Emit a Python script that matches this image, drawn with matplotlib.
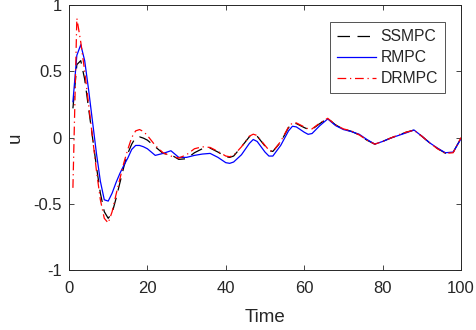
import numpy as np
import matplotlib
matplotlib.use("Agg")
import matplotlib.pyplot as plt

plt.rcParams['font.family'] = ['Liberation Sans', 'DejaVu Sans']
plt.rcParams['axes.unicode_minus'] = False

# sample times (shared by all series)
time = [1, 2, 3, 4, 5, 6, 7, 8, 9, 10, 11, 12, 13, 14, 15, 16, 17, 18, 19, 20,
        22, 24, 26, 28, 30, 32, 34, 36, 38, 40, 41, 42, 44, 46, 47, 48, 50, 51, 52,
        54, 56, 57, 58, 60, 61, 62, 64, 66, 68, 70, 72, 74, 76, 78, 80, 82, 84, 86,
        88, 90, 92, 94, 96, 98, 100]

ssmpc = [0.22, 0.55, 0.58, 0.44, 0.22, 0.0, -0.22, -0.42, -0.56, -0.61, -0.57, -0.46,
         -0.34, -0.22, -0.12, -0.05, 0.0, 0.005, -0.005, -0.02,
         -0.07, -0.12, -0.13, -0.165, -0.16, -0.115, -0.085, -0.08, -0.11, -0.145,
         -0.15, -0.14, -0.07, 0.005, 0.02, 0.01, -0.065, -0.1, -0.105,
         -0.035, 0.075, 0.105, 0.105, 0.075, 0.062, 0.062, 0.105, 0.145, 0.095,
         0.063, 0.047, 0.02, -0.02, -0.05, -0.03, -0.005, 0.017, 0.04,
         0.056, 0.01, -0.04, -0.083, -0.118, -0.112, -0.005]

rmpc = [0.27, 0.62, 0.70, 0.58, 0.36, 0.12, -0.12, -0.33, -0.47, -0.48, -0.42, -0.34,
        -0.27, -0.21, -0.155, -0.09, -0.06, -0.06, -0.07, -0.085,
        -0.135, -0.12, -0.10, -0.15, -0.15, -0.135, -0.125, -0.12, -0.15, -0.19,
        -0.195, -0.185, -0.13, -0.045, -0.015, -0.03, -0.11, -0.14, -0.14,
        -0.06, 0.05, 0.085, 0.08, 0.04, 0.024, 0.03, 0.09, 0.14, 0.09,
        0.06, 0.045, 0.025, -0.015, -0.05, -0.03, -0.005, 0.015, 0.035,
        0.057, 0.01, -0.04, -0.08, -0.115, -0.11, -0.01]

drmpc = [-0.38, 0.90, 0.72, 0.50, 0.25, 0.0, -0.25, -0.47, -0.61, -0.645, -0.56, -0.43,
         -0.31, -0.19, -0.09, 0.0, 0.05, 0.06, 0.045, 0.015,
         -0.06, -0.115, -0.14, -0.155, -0.13, -0.085, -0.07, -0.075, -0.105, -0.14,
         -0.145, -0.135, -0.07, 0.01, 0.025, 0.015, -0.06, -0.095, -0.105,
         -0.03, 0.08, 0.11, 0.11, 0.08, 0.065, 0.065, 0.11, 0.145, 0.095,
         0.065, 0.05, 0.02, -0.02, -0.05, -0.03, -0.005, 0.02, 0.04,
         0.055, 0.01, -0.04, -0.085, -0.12, -0.115, 0.0]

xticks = [0, 20, 40, 60, 80, 100]
yticks = [-1, -0.5, 0, 0.5, 1]
ylabels = ['-1', '-0.5', '0', '0.5', '1']

axis_col = '#262626'

fig = plt.figure(figsize=(4.77, 3.30), dpi=100)
ax = fig.add_axes([69/477, 60/330, 392/477, 265/330])

lw = 0.9
ax.plot(time, ssmpc, color='k', lw=lw, dashes=(10, 6), label='SSMPC')
ax.plot(time, rmpc, color='#0000ff', lw=lw, label='RMPC')
ax.plot(time, drmpc, color='#ff0000', lw=lw, dashes=(7, 3, 1, 3), label='DRMPC')

ax.set_xlim(0, 100)
ax.set_ylim(-1, 1)
ax.set_xticks(xticks)
ax.set_yticks(yticks)
ax.set_yticklabels(ylabels)
ax.tick_params(direction='in', length=3.5, width=0.6, colors=axis_col,
               labelsize=12, top=True, right=True)
ax.tick_params(axis='x', pad=8)
ax.tick_params(axis='y', pad=5)
for s in ax.spines.values():
    s.set_color(axis_col)
    s.set_linewidth(0.7)

ax.set_xlabel('Time', fontsize=13.5, color=axis_col, labelpad=9)
ax.set_ylabel('u', fontsize=13.5, color=axis_col, labelpad=7)

leg = ax.legend(loc='upper right', bbox_to_anchor=(0.958, 0.934), fontsize=11.3,
                frameon=True, fancybox=False, handlelength=2.5, handletextpad=0.3,
                labelspacing=0.38, borderpad=0.42, borderaxespad=0.0)
leg.get_frame().set_edgecolor(axis_col)
leg.get_frame().set_linewidth(0.7)
for t in leg.get_texts():
    t.set_color(axis_col)

fig.savefig('out.png', dpi=100)
